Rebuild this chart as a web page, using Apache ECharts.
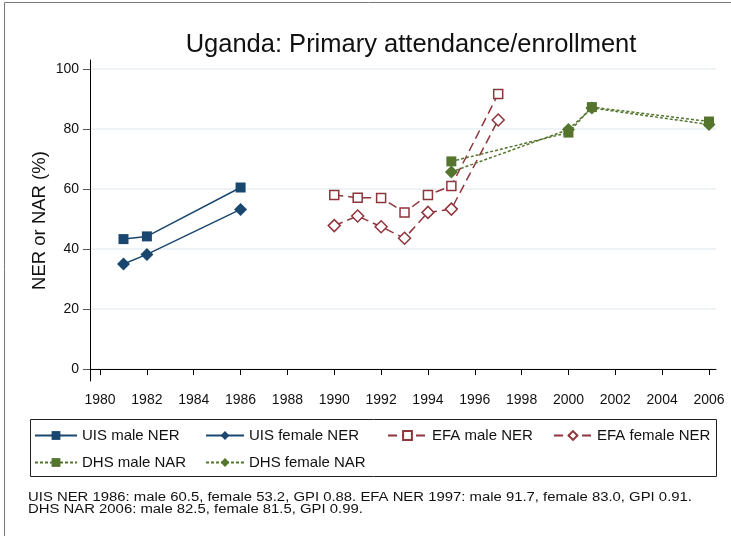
<!DOCTYPE html>
<html>
<head>
<meta charset="utf-8">
<script src="https://cdn.jsdelivr.net/npm/echarts@6/dist/echarts.min.js"></script>
<style>
html, body { margin: 0; padding: 0; background: #fff; }
#chart { width: 731px; height: 536px; }
</style>
</head>
<body>
<div id="chart"></div>
<script>
// tick values
const yearTicks = [1980, 1982, 1984, 1986, 1988, 1990, 1992, 1994, 1996, 1998, 2000, 2002, 2004, 2006];
const pctTicks = [0, 20, 40, 60, 80, 100];

// UIS net enrollment
const uisYears = [1981, 1982, 1986];
const uisMale = [43.3, 44.2, 60.5];
const uisFemale = [35.0, 38.2, 53.2];

// EFA net enrollment
const efaYears = [1990, 1991, 1992, 1993, 1994, 1995, 1997];
const efaMale = [58.0, 57.1, 57.0, 52.2, 58.0, 61.0, 91.7];
const efaFemale = [47.8, 51.0, 47.4, 43.6, 52.2, 53.3, 83.0];

// DHS net attendance
const dhsYears = [1995, 2000, 2001, 2006];
const dhsMale = [69.2, 78.8, 87.3, 82.5];
const dhsFemale = [65.7, 79.8, 87.0, 81.5];

const footnote = 'UIS NER 1986: male 60.5, female 53.2, GPI 0.88. EFA NER 1997: male 91.7, female 83.0, GPI 0.91.\nDHS NAR 2006: male 82.5, female 81.5, GPI 0.99.';

const navy = '#1a476f';
const maroon = '#90353b';
const green = '#55752f';
const font = '"Liberation Sans", Arial, sans-serif';

function pairs(xs, ys) {
    return xs.map(function(x, i) { return [x, ys[i]]; });
}

function makeSeries(name, xs, ys, color, symbol, size, dash, hollow) {
    return {
        name: name,
        type: 'line',
        data: pairs(xs, ys),
        symbol: symbol,
        symbolSize: size,
        showAllSymbol: true,
        lineStyle: {color: color, width: 1.5, type: dash},
        itemStyle: {
            color: hollow ? '#fff' : color,
            borderColor: color,
            borderWidth: hollow ? 1.5 : 0
        },
        emphasis: {disabled: true},
        animation: false
    };
}

const series = [
    makeSeries('UIS male NER', uisYears, uisMale, navy, 'rect', 10, 'solid', false),
    makeSeries('UIS female NER', uisYears, uisFemale, navy, 'diamond', 13, 'solid', false),
    makeSeries('EFA male NER', efaYears, efaMale, maroon, 'rect', 9, [9, 5], true),
    makeSeries('EFA female NER', efaYears, efaFemale, maroon, 'diamond', 12, [9, 5], true),
    makeSeries('DHS male NAR', dhsYears, dhsMale, green, 'rect', 10, [3, 2], false),
    makeSeries('DHS female NAR', dhsYears, dhsFemale, green, 'diamond', 13, [3, 2], false)
];

// legend slots inside the box
const legendPos = [
    {left: 34, top: 428, w: 42},
    {left: 205, top: 428, w: 38},
    {left: 387, top: 428, w: 39},
    {left: 553, top: 428, w: 38},
    {left: 34, top: 455, w: 42},
    {left: 205, top: 455, w: 38}
];

const legends = series.map(function(s, i) {
    return {
        data: [s.name],
        left: legendPos[i].left,
        top: legendPos[i].top,
        orient: 'horizontal',
        itemWidth: legendPos[i].w,
        itemHeight: 11,
        padding: 0,
        selectedMode: false,
        textStyle: {color: '#111', fontSize: 15, fontFamily: font}
    };
});

const chart = echarts.init(document.getElementById('chart'), null, {renderer: 'canvas'});
chart.setOption({
    backgroundColor: '#fff',
    animation: false,
    title: {
        text: 'Uganda: Primary attendance/enrollment',
        left: 406,
        textAlign: 'center',
        top: 27,
        textStyle: {color: '#111', fontSize: 25.5, fontWeight: 'normal', fontFamily: font}
    },
    grid: {left: 90, right: 15, top: 60, bottom: 155},
    xAxis: {
        type: 'value',
        min: 1979.57,
        max: 2006.3,
        axisLine: {lineStyle: {color: '#000', width: 1}},
        axisTick: {show: true, length: 6, customValues: yearTicks, lineStyle: {color: '#000'}},
        axisLabel: {
            customValues: yearTicks,
            formatter: function(v) { return String(v); },
            color: '#111',
            fontSize: 14,
            fontFamily: font,
            margin: 12
        },
        splitLine: {show: false}
    },
    yAxis: {
        type: 'value',
        min: -4,
        max: 103,
        name: 'NER or NAR (%)',
        nameLocation: 'middle',
        nameGap: 41,
        nameMoveOverlap: false,
        nameTextStyle: {color: '#111', fontSize: 18.5, fontFamily: font},
        axisLine: {show: true, lineStyle: {color: '#000', width: 1}},
        axisTick: {show: true, length: 7, customValues: pctTicks, lineStyle: {color: '#555'}},
        axisLabel: {
            customValues: pctTicks,
            color: '#111',
            fontSize: 14,
            fontFamily: font,
            margin: 11
        },
        splitLine: {show: true, lineStyle: {color: '#e8eff3', width: 1.5}}
    },
    legend: legends,
    series: series,
    graphic: [
        {
            type: 'rect',
            shape: {x: 4.5, y: 2.5, width: 800, height: 600},
            style: {fill: 'none', stroke: '#777', lineWidth: 1},
            silent: true
        },
        {
            type: 'rect',
            shape: {x: 30.5, y: 419.5, width: 686, height: 57},
            style: {fill: 'none', stroke: '#222', lineWidth: 1},
            silent: true
        },
        {
            type: 'text',
            x: 28,
            y: 492,
            scaleX: 1.19,
            style: {
                text: footnote,
                x: 0,
                y: 0,
                verticalAlign: 'top',
                fill: '#111',
                font: '12.5px ' + font,
                lineHeight: 11.5
            },
            silent: true
        }
    ]
});
</script>
</body>
</html>
